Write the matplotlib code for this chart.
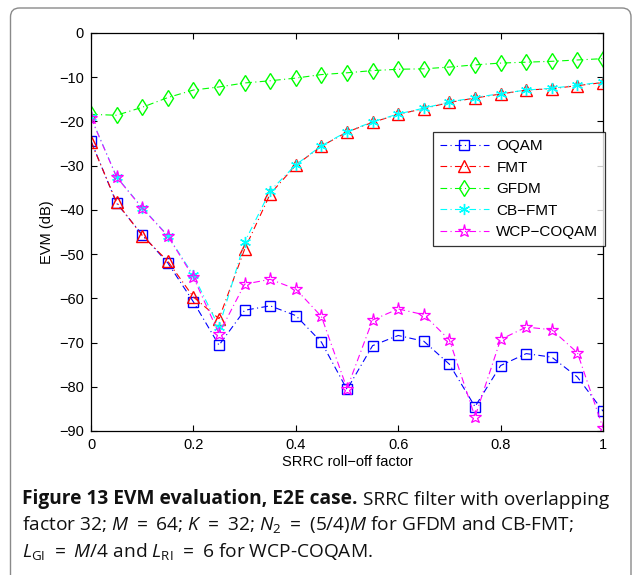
import matplotlib
matplotlib.use("Agg")
import matplotlib.pyplot as plt
from matplotlib.patches import FancyBboxPatch

# ---- data ----
rolloff = [0.0, 0.05, 0.10, 0.15, 0.20, 0.25, 0.30, 0.35, 0.40, 0.45, 0.50,
           0.55, 0.60, 0.65, 0.70, 0.75, 0.80, 0.85, 0.90, 0.95, 1.0]
oqam = [-24.4, -38.5, -45.6, -52.0, -60.8, -70.6, -62.7, -61.7, -63.9, -69.9, -80.6,
        -70.7, -68.4, -69.7, -74.9, -84.5, -75.2, -72.5, -73.3, -77.8, -85.5]
fmt = [-24.6, -38.3, -45.8, -51.6, -59.7, -64.6, -48.9, -36.4, -29.9, -25.6, -22.4,
       -20.2, -18.4, -17.1, -15.7, -14.7, -13.8, -12.9, -12.6, -11.9, -11.2]
gfdm = [-18.4, -18.6, -16.8, -14.6, -12.9, -12.2, -11.3, -10.8, -10.2, -9.4, -9.0,
        -8.5, -8.2, -8.1, -7.7, -7.2, -6.8, -6.6, -6.4, -6.1, -5.8]
cbfmt = [-19.1, -32.5, -39.5, -45.8, -54.8, -66.5, -47.3, -35.7, -29.8, -25.5, -22.3,
         -20.1, -18.3, -17.0, -15.6, -14.6, -13.7, -12.9, -12.5, -11.8, -11.1]
wcp = [-19.2, -32.6, -39.6, -45.9, -55.2, -68.0, -56.8, -55.7, -57.9, -64.1, -80.4,
       -64.9, -62.4, -63.7, -69.4, -86.8, -69.3, -66.5, -67.1, -72.3, -89.3]
labels = ["OQAM", "FMT", "GFDM", "CB\u2212FMT", "WCP\u2212COQAM"]
xticks = [0, 0.2, 0.4, 0.6, 0.8, 1.0]
xticklabels = ["0", "0.2", "0.4", "0.6", "0.8", "1"]
yticks = [0, -10, -20, -30, -40, -50, -60, -70, -80, -90]

plt.rcParams['font.family'] = ['Liberation Sans', 'DejaVu Sans']
plt.rcParams['mathtext.fontset'] = 'custom'
plt.rcParams['mathtext.rm'] = 'Open Sans'
plt.rcParams['mathtext.it'] = 'Open Sans:italic'
plt.rcParams['mathtext.bf'] = 'Open Sans:bold'

W, H = 633, 575
fig = plt.figure(figsize=(W / 100, H / 100), dpi=100)

# rounded frame
frame = FancyBboxPatch((10.5 / 100, -0.3), (631 - 10.5) / 100, (H - 8) / 100 + 0.3,
                       boxstyle="round,pad=0,rounding_size=0.09",
                       transform=fig.dpi_scale_trans, fill=False,
                       edgecolor='#8a8a8a', linewidth=1.0)
fig.patches.append(frame)

ax = fig.add_axes([91 / W, 1 - 431 / H, (603 - 91) / W, (431 - 33) / H])

ls = (0, (6, 3, 1, 3))
lw = 0.8
ax.plot(rolloff, oqam, linestyle=ls, color=(0, 0, 1), lw=lw, marker='s', ms=6.5,
        mfc='none', mec=(0, 0, 1), mew=1.0, label=labels[0])
ax.plot(rolloff, fmt, linestyle=ls, color=(1, 0, 0), lw=lw, marker='^', ms=8,
        mfc='none', mec=(1, 0, 0), mew=1.0, label=labels[1])
ax.plot(rolloff, gfdm, linestyle=ls, color=(0, 1, 0), lw=lw, marker='d', ms=8.5,
        mfc='none', mec=(0, 1, 0), mew=1.0, label=labels[2])
ax.plot(rolloff, cbfmt, linestyle=ls, color=(0, 1, 1), lw=lw, marker=(6, 2, 0), ms=8,
        mfc='none', mec=(0, 1, 1), mew=1.0, label=labels[3])
ax.plot(rolloff, wcp, linestyle=ls, color=(1, 0, 1), lw=lw, marker='*', ms=9.5,
        mfc='none', mec=(1, 0, 1), mew=0.9, label=labels[4])

ax.set_xlim(0, 1)
ax.set_ylim(-90, 0)
ax.set_xticks(xticks)
ax.set_xticklabels(xticklabels)
ax.set_yticks(yticks)
ax.tick_params(direction='in', top=True, right=True, labelsize=10.5, length=4,
               width=0.8, pad=5)
for s in ax.spines.values():
    s.set_linewidth(0.9)
ax.set_xlabel("SRRC roll\u2212off factor", fontsize=10.5, labelpad=2)
ax.set_ylabel("EVM (dB)", fontsize=10.5, labelpad=4)

leg = ax.legend(loc='upper left', bbox_to_anchor=((433 - 91) / 512, 1 - (132 - 33) / 398),
                fontsize=11, frameon=True, fancybox=False, edgecolor='black',
                handlelength=3.2, borderpad=0.45, labelspacing=0.5, handletextpad=0.5,
                borderaxespad=0)
leg.get_frame().set_linewidth(0.9)

# caption
cfs = 13.8
cfam = ['Open Sans', 'DejaVu Sans']
t1 = fig.text(22 / W, 1 - 504 / H, "Figure 13 EVM evaluation, E2E case.", fontsize=cfs,
              fontweight='bold', family=cfam, va='baseline', color='#111111')
ax.annotate(" SRRC filter with overlapping", xy=(1, 0), xycoords=t1, va='bottom',
            ha='left', fontsize=cfs, family=cfam, color='#111111',
            annotation_clip=False)
fig.text(22 / W, 1 - 530 / H,
         r"factor 32; $M\ =\ 64$; $K\ =\ 32$; $N_2\ =\ (5/4)M$ for GFDM and CB-FMT;",
         fontsize=cfs, family=cfam, va='baseline', color='#111111')
fig.text(22 / W, 1 - 557 / H,
         r"$L_{\mathrm{GI}}\ =\ M/4$ and $L_{\mathrm{RI}}\ =\ 6$ for WCP-COQAM.",
         fontsize=cfs, family=cfam, va='baseline', color='#111111')

fig.savefig("out.png", dpi=100)
